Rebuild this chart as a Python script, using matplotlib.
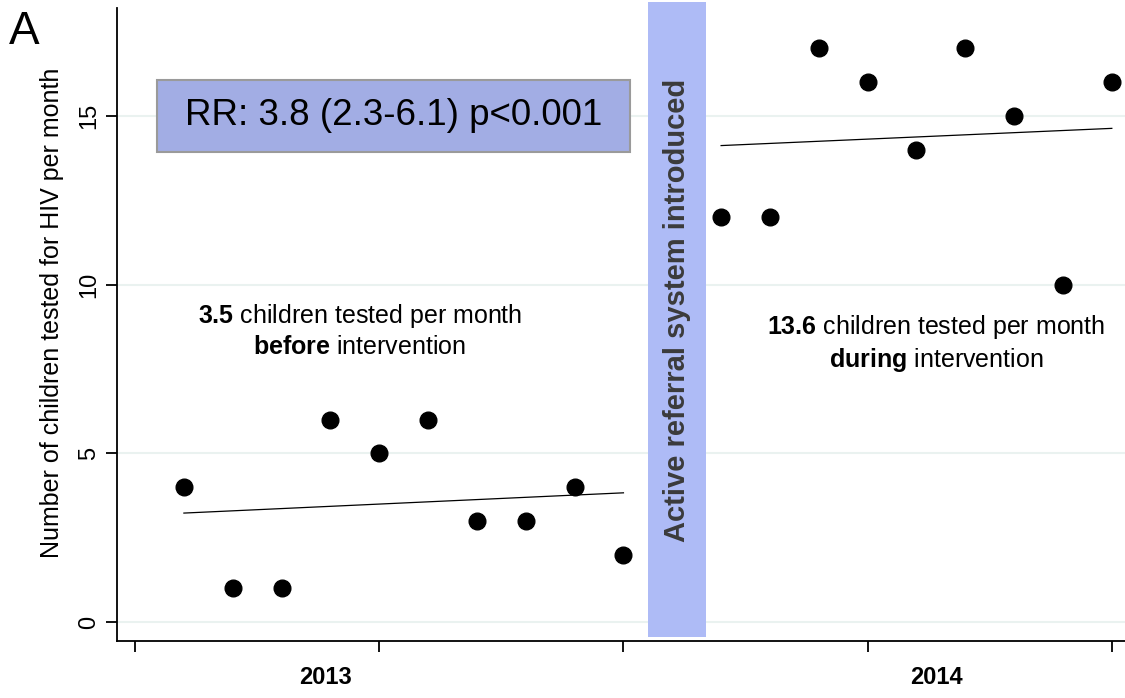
import numpy as np
import matplotlib
matplotlib.use('Agg')
import matplotlib.pyplot as plt
from matplotlib.patches import Rectangle
from matplotlib.transforms import blended_transform_factory

plt.rcParams['font.family'] = ['Liberation Sans', 'DejaVu Sans']
plt.rcParams['mathtext.fontset'] = 'custom'
plt.rcParams['mathtext.rm'] = 'Liberation Sans'
plt.rcParams['mathtext.bf'] = 'Liberation Sans:bold'

# meses (indice) y ninos testeados por mes
meses_antes = [1, 2, 3, 4, 5, 6, 7, 8, 9, 10]
testeados_antes = [4, 1, 1, 6, 5, 6, 3, 3, 4, 2]
meses_durante = [12, 13, 14, 15, 16, 17, 18, 19, 20]
testeados_durante = [12, 12, 17, 16, 14, 17, 15, 10, 16]

# rectas de tendencia (extremos)
tend_antes_x = [1, 10]
tend_antes_y = [3.23, 3.83]
tend_durante_x = [12, 20]
tend_durante_y = [14.12, 14.63]

# periodo de introduccion del sistema
intervencion = [10.5, 11.69]

x_ticks = [0, 5, 10, 15, 20]
y_ticks = [0, 5, 10, 15]
anios = ['2013', '2014']
anios_pos = [3.9, 16.4]

fig = plt.figure(figsize=(11.25, 6.98), dpi=100)
ax = fig.add_axes([0.104, 0.0817, 0.896, 0.907])
ax.set_xlim(-0.37, 20.27)
ax.set_ylim(-0.56, 18.2)

for y in y_ticks:
    ax.axhline(y, color='#eaf2f0', lw=1.5, zorder=0)

ax.add_patch(Rectangle((intervencion[0], -0.44), intervencion[1] - intervencion[0], 18.8,
                       facecolor='#aebbf6', edgecolor='none', zorder=1, clip_on=False))
ax.text(np.mean(intervencion), 9.25, 'Active referral system introduced', rotation=90,
        ha='center', va='center', fontsize=21, fontweight='bold', color='#3b3b3b', zorder=2)

ax.plot(meses_antes, testeados_antes, 'o', color='black', ms=12, zorder=3)
ax.plot(meses_durante, testeados_durante, 'o', color='black', ms=12, zorder=3)
ax.plot(tend_antes_x, tend_antes_y, color='black', lw=0.9, zorder=3)
ax.plot(tend_durante_x, tend_durante_y, color='black', lw=0.9, zorder=3)

# cuadro con el RR
ax.add_patch(Rectangle((0.45, 13.93), 9.68, 2.14, facecolor='#a2ade4', edgecolor='#9a9a9a',
                       lw=1.5, zorder=2))
ax.text(0.45 + 9.68 / 2, 15.0, 'RR: 3.8 (2.3-6.1) p<0.001', ha='center', va='center',
        fontsize=26.5, zorder=3)

ax.text(4.6, 8.65, r'$\bf{3.5}$ children tested per month' + '\n' + r'$\bf{before}$ intervention',
        ha='center', va='center', fontsize=18, linespacing=1.25)
ax.text(16.4, 8.25, r'$\bf{13.6}$ children tested per month' + '\n' + r'$\bf{during}$ intervention',
        ha='center', va='center', fontsize=18, linespacing=1.25)

ax.spines['top'].set_visible(False)
ax.spines['right'].set_visible(False)
ax.spines['left'].set_linewidth(1.3)
ax.spines['bottom'].set_linewidth(1.3)

ax.set_xticks(x_ticks)
ax.set_xticklabels([])
ax.set_yticks(y_ticks)
ax.set_yticklabels([str(v) for v in y_ticks], rotation=90, va='center', fontsize=17)
ax.tick_params(axis='both', length=8, width=1.3, color='black')
ax.tick_params(axis='y', pad=4)

trans = blended_transform_factory(ax.transData, ax.transAxes)
for anio, pos in zip(anios, anios_pos):
    ax.text(pos, -0.057, anio, transform=trans, ha='center', va='center',
            fontsize=17, fontweight='bold')

ax.set_ylabel('Number of children tested for HIV per month', fontsize=18)
ax.yaxis.set_label_coords(-0.053, 0.518)

fig.text(0.008, 0.986, 'A', fontsize=33, va='top', ha='left')

plt.savefig('out.png', dpi=100)
